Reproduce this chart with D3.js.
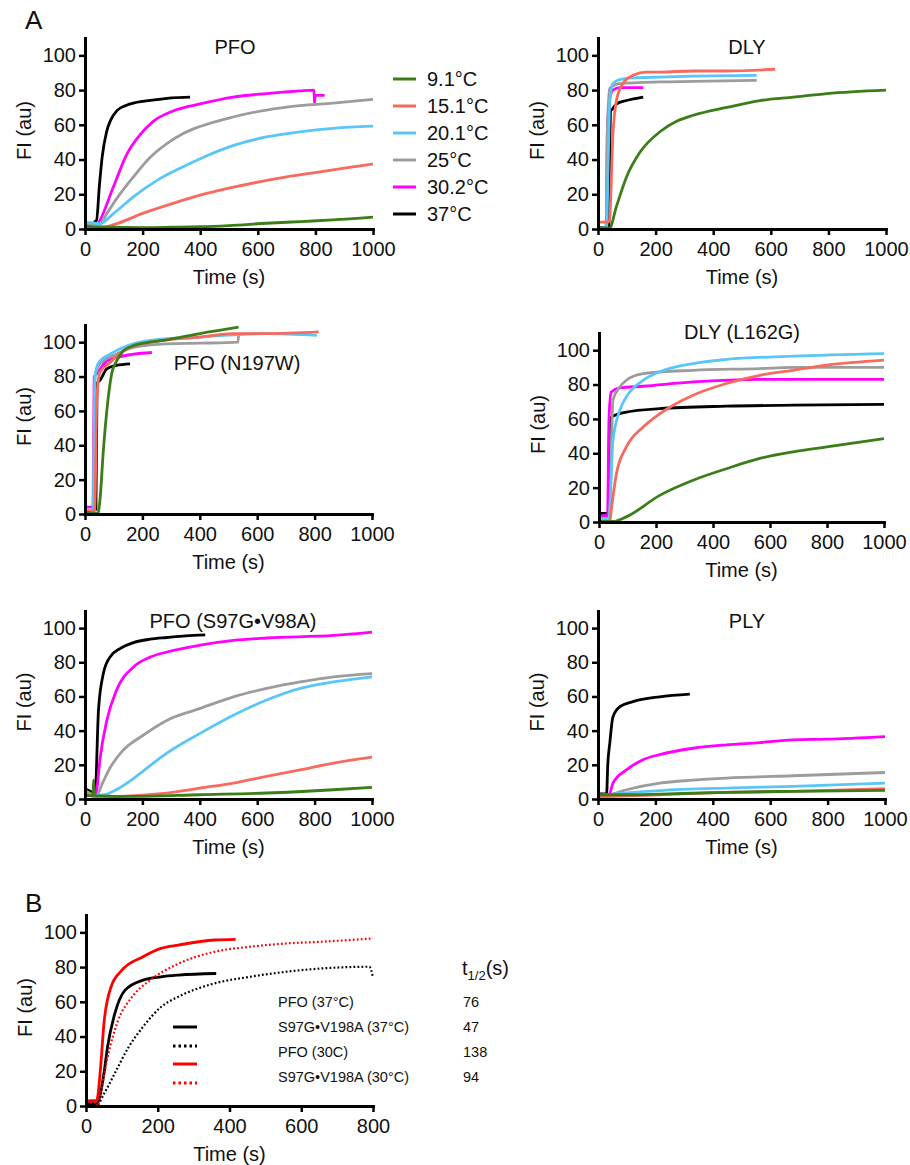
<!DOCTYPE html>
<html>
<head>
<meta charset="utf-8">
<script src="https://cdn.jsdelivr.net/npm/d3@7"></script>
<style>
  body { margin: 0; background: #fff; }
  svg text { font-family: Helvetica, Arial, 'Liberation Sans', sans-serif; fill: #111; }
</style>
</head>
<body>
<div id="chart"></div>
<script>
// ---------------------------------- DATA ---------------------------------- //

let temps = ['9.1°C', '15.1°C', '20.1°C', '25°C', '30.2°C', '37°C'];
let y_ticks = [0, 20, 40, 60, 80, 100];
let x_ticks_a = [0, 200, 400, 600, 800, 1000];
let x_ticks_b = [0, 200, 400, 600, 800];

// each panel: one trace per temperature, same order as temps, points are [time (s), FI]
let pfo = [
  [[0,1.5],[50,1.2],[100,1],[200,0.8],[300,1],[400,1.3],[500,2],[630,3.3],[750,4.3],[861,5.2],[1000,6.8]],
  [[0,1],[60,1],[100,2.5],[200,9],[300,14.5],[400,19.5],[500,23.5],[600,27],[700,30],[800,32.5],[900,35],[1000,37.4]],
  [[0,4],[30,3.5],[50,3],[100,9],[168,18.5],[250,28],[330,35],[400,40.5],[514,48],[630,53],[746,56],[861,58],[1000,59.2]],
  [[0,3],[50,3],[80,10],[110,17.5],[168,30],[225,41],[283,49],[341,55],[399,59],[514,64.5],[630,68.5],[746,71],[861,72.5],[1000,74.7]],
  [[45,3],[52,5],[98,24],[145,43],[190,54],[237,62],[306,68],[399,72],[514,76],[630,78],[746,79.5],[795,80],[797,72],[799,77],[832,77]],
  [[30,4],[40,5],[50,25],[60,42],[75,56],[90,63],[110,68],[140,71],[180,73],[250,74.5],[300,75.5],[365,76]]
];
let dly = [
  [[0,1],[40,0.5],[64,13],[99,30],[145,44],[215,56],[273,62],[331,65.5],[447,70],[563,74],[679,76],[795,78],[1000,80]],
  [[0,4],[35,4],[40,5],[52,55],[64,74],[87,84],[122,88.5],[168,90.4],[215,90.4],[331,91],[447,91],[615,92]],
  [[0,0.5],[30,0.5],[35,36],[41,74],[52,83.7],[75,86],[122,87],[215,87.5],[331,88],[551,88.5]],
  [[0,0.5],[28,1],[33,60],[41,81],[75,83.7],[215,84.7],[331,85],[551,85.6]],
  [[0,0.5],[28,1],[33,60],[45,78],[52,80],[75,81.4],[157,81.4]],
  [[38,1],[44,68],[50,69],[64,72],[99,74],[157,76]]
];
let pfo_n197w = [
  [[0,1],[45,0.5],[52,8],[64,37],[76,60],[93,81.7],[110,89],[134,95],[169,98],[227,100],[285,101.4],[401,105],[535,108.7]],
  [[0,2],[33,2],[35,8],[41,66],[52,82.6],[87,88],[134,95],[227,100],[401,103],[517,105],[633,105],[814,106]],
  [[0,1],[28,1],[35,80],[41,85.5],[52,89],[87,93],[134,97],[227,101],[401,103],[633,105],[808,104]],
  [[0,1],[28,1],[35,80],[52,87.5],[110,93],[169,97],[285,99],[401,99.4],[533,100],[535,104]],
  [[0,4],[28,4],[32,80],[41,81.6],[76,89],[169,93],[233,94]],
  [[38,2],[42,76],[52,77.8],[76,84.5],[110,86.5],[157,87.4]]
];
let dly_l162g = [
  [[0,0.3],[50,0.3],[96,3],[213,15.5],[330,24.3],[447,31],[564,37],[681,40.8],[799,43.7],[1000,48.5]],
  [[38,0],[61,28],[96,43.7],[155,55.3],[213,63],[330,73.8],[447,80.6],[564,85.4],[681,88.3],[799,91.3],[1000,94.2]],
  [[0,2],[35,2],[49,47.6],[73,65],[96,72.8],[155,82.5],[213,87.4],[330,92.2],[447,94.6],[681,96.5],[1000,98]],
  [[0,2],[36,2],[49,71],[73,78.6],[96,82.5],[155,86.4],[330,88.3],[564,89.3],[681,90],[1000,90]],
  [[0,3.5],[30,3.5],[35,60],[43,75.7],[73,78],[155,79],[330,81.5],[564,83],[1000,83]],
  [[0,5],[33,5],[37,55],[43,61],[96,64],[213,66],[447,67.4],[681,68],[1000,68.5]]
];
let pfo_s97g = [
  [[0,2],[28,2],[30,11],[33,2],[169,1.5],[401,2.5],[633,3.5],[866,5.4],[1000,6.8]],
  [[0,3],[50,1],[169,2],[285,3.5],[401,6.4],[517,9.3],[633,13.2],[750,17],[866,21],[1000,24.5]],
  [[0,3],[40,2],[70,2.5],[110,5.5],[169,12],[227,19.5],[285,26.8],[401,38.4],[517,49],[633,57.9],[750,64.7],[866,68.5],[1000,71.5]],
  [[0,5],[40,2],[60,9],[90,19],[130,28],[200,37],[285,46],[401,53],[517,59.8],[633,64.7],[750,68.5],[866,71.5],[1000,73.4]],
  [[0,3],[35,2],[41,5.4],[52,23],[76,46],[110,63.7],[169,77.3],[227,83],[285,86],[401,90],[517,92.8],[633,94.2],[866,95.7],[1000,97.7]],
  [[0,6],[30,3],[35,2],[47,52],[64,73.4],[87,83],[122,88],[169,91.5],[227,93.5],[285,94.5],[350,95.5],[419,96]]
];
let ply = [
  [[0,2.5],[99,2.5],[215,2.9],[448,3.9],[680,4.5],[1000,5]],
  [[0,1.2],[215,2.5],[448,3.9],[680,4.5],[1000,6]],
  [[0,2],[99,3.5],[215,4.9],[448,6.4],[680,7.4],[1000,9.3]],
  [[0,2],[41,2.5],[99,5.4],[215,9.3],[331,11],[448,12.2],[680,13.6],[1000,15.5]],
  [[0,2],[40,3],[52,9.3],[99,17],[157,23],[215,26],[331,29.7],[448,31.7],[564,33],[680,34.6],[796,35],[1000,36.5]],
  [[0,3],[30,3],[34,20],[41,32.6],[52,48],[76,54],[122,57],[215,59.8],[320,61.4]]
];

// panel B
let b_labels = ['PFO (37°C)', 'S97G•V198A (37°C)', 'PFO (30C)', 'S97G•V198A (30°C)'];
let b_half_times = ['76', '47', '138', '94'];
let b_traces = [
  [[0,1.3],[30,1.3],[50,18.7],[60,34],[80,53],[109,66.7],[159,72.5],[209,74.4],[258,75.4],[363,76.3]],
  [[0,0.4],[30,0.4],[50,7],[80,18.7],[119,34],[159,45.6],[209,57],[258,63],[358,70.6],[457,74.4],[557,77.3],[656,79.2],[790,80.2],[800,74]],
  [[0,3],[30,3.3],[40,20.6],[50,47.5],[70,68.7],[99,78],[159,86],[209,90.8],[258,92.7],[358,95.6],[417,96]],
  [[0,2],[28,2],[32,0],[40,7],[60,28],[89,49],[129,63],[179,72.5],[258,82],[358,88.8],[457,91.7],[557,93.6],[656,94.6],[800,96.5]]
];

// ---------------------------------- SETTINGS ---------------------------------- //

let img_width = 910;
let img_height = 1165;
let temp_colors = ['#3b7d17', '#f8695e', '#5ac6f7', '#9c9c9c', '#ff00ff', '#000000'];
let b_colors = ['#000000', '#000000', '#ff0000', '#ff0000'];
let b_dashed = [false, true, false, true];
let tick_font = 20;

// plot boxes: left, right, bottom, top (top = y value 110)
let panels = [
  { data: pfo, title: 'PFO', left: 85, right: 373, bottom: 229, top: 38, tx: 235, ty: 54 },
  { data: dly, title: 'DLY', left: 598, right: 886, bottom: 229, top: 38, tx: 747, ty: 54 },
  { data: pfo_n197w, title: 'PFO (N197W)', left: 85, right: 372, bottom: 514, top: 325, tx: 237, ty: 370 },
  { data: dly_l162g, title: 'DLY (L162G)', left: 599, right: 884, bottom: 522, top: 333, tx: 742, ty: 339 },
  { data: pfo_s97g, title: 'PFO (S97G•V98A)', left: 85, right: 372, bottom: 799, top: 611, tx: 233, ty: 628 },
  { data: ply, title: 'PLY', left: 598, right: 885, bottom: 799, top: 611, tx: 747, ty: 628 }
];

// ---------------------------------- HELPERS ---------------------------------- //

let svg = d3.select('#chart')
  .append('svg')
  .attr('width', img_width)
  .attr('height', img_height);

function drawAxes(g, x, y, ticks_x, bottom, top, left) {
  let ax = g.append('g')
    .attr('transform', `translate(0,${bottom})`)
    .call(d3.axisBottom(x).tickValues(ticks_x).tickFormat(d3.format('d')).tickSize(6).tickSizeOuter(0).tickPadding(7));
  let ay = g.append('g')
    .attr('transform', `translate(${left},0)`)
    .call(d3.axisLeft(y).tickValues(y_ticks).tickFormat(d3.format('d')).tickSize(6).tickSizeOuter(0).tickPadding(3));

  [ax, ay].forEach(function(a) {
    a.select('.domain').attr('stroke', '#000').attr('stroke-width', 3).attr('stroke-linecap', 'square');
    a.selectAll('.tick line').attr('stroke', '#000').attr('stroke-width', 2.5);
    a.selectAll('.tick text').style('font-size', `${tick_font}px`).attr('fill', '#111');
  });

  g.append('text')
    .attr('x', (x.range()[0] + x.range()[1]) / 2)
    .attr('y', bottom + 55)
    .attr('text-anchor', 'middle')
    .style('font-size', '20px')
    .text('Time (s)');

  g.append('text')
    .attr('transform', `translate(${left - 54},${(bottom + top) / 2 - 3}) rotate(-90)`)
    .attr('text-anchor', 'middle')
    .style('font-size', '20px')
    .text('FI (au)');
}

// ---------------------------------- PANELS A ---------------------------------- //

panels.forEach(function(p) {
  let g = svg.append('g');
  let x = d3.scaleLinear().domain([0, 1000]).range([p.left, p.right]);
  let y = d3.scaleLinear().domain([0, 110]).range([p.bottom, p.top]);
  let line = d3.line().x(d => x(d[0])).y(d => y(d[1])).curve(d3.curveMonotoneX);

  // draw from 37°C down so the cold traces sit on top
  let order = d3.range(temps.length).reverse();
  g.selectAll('path.trace')
    .data(order)
    .enter()
    .append('path')
    .attr('class', 'trace')
    .attr('d', i => line(p.data[i]))
    .attr('fill', 'none')
    .attr('stroke', i => temp_colors[i])
    .attr('stroke-width', 2.8)
    .attr('stroke-linejoin', 'round');

  drawAxes(g, x, y, x_ticks_a, p.bottom, p.top, p.left);

  g.append('text')
    .attr('x', p.tx)
    .attr('y', p.ty)
    .attr('text-anchor', 'middle')
    .style('font-size', '20px')
    .text(p.title);
});

// legend for A
let legend = svg.append('g').attr('transform', 'translate(393,79)');
temps.forEach(function(t, i) {
  legend.append('line')
    .attr('x1', 0).attr('x2', 23)
    .attr('y1', i * 27).attr('y2', i * 27)
    .attr('stroke', temp_colors[i])
    .attr('stroke-width', 3);
  legend.append('text')
    .attr('x', 34)
    .attr('y', i * 27)
    .attr('dy', '0.35em')
    .style('font-size', '20px')
    .text(t);
});

svg.append('text').attr('x', 25).attr('y', 29).style('font-size', '26px').text('A');

// ---------------------------------- PANEL B ---------------------------------- //

let gb = svg.append('g');
let xb = d3.scaleLinear().domain([0, 800]).range([86, 373]);
let yb = d3.scaleLinear().domain([0, 110]).range([1106, 915]);
let line_b = d3.line().x(d => xb(d[0])).y(d => yb(d[1])).curve(d3.curveMonotoneX);

gb.selectAll('path.trace')
  .data(d3.range(b_traces.length))
  .enter()
  .append('path')
  .attr('class', 'trace')
  .attr('d', i => line_b(b_traces[i]))
  .attr('fill', 'none')
  .attr('stroke', i => b_colors[i])
  .attr('stroke-width', i => b_dashed[i] ? 2.2 : 2.8)
  .attr('stroke-dasharray', i => b_dashed[i] ? '1.8,2.2' : null)
  .attr('stroke-linejoin', 'round');

drawAxes(gb, xb, yb, x_ticks_b, 1106, 915, 86);

svg.append('text').attr('x', 25).attr('y', 912).style('font-size', '26px').text('B');

// legend lines sit a little below their labels, as in the original
let b_line_y = [1027, 1046, 1064, 1083];
b_line_y.forEach(function(ly, i) {
  gb.append('line')
    .attr('x1', 173).attr('x2', 197)
    .attr('y1', ly).attr('y2', ly)
    .attr('stroke', b_colors[i])
    .attr('stroke-width', 3)
    .attr('stroke-dasharray', b_dashed[i] ? '2.5,3' : null);
});

b_labels.forEach(function(lbl, i) {
  gb.append('text')
    .attr('x', 278)
    .attr('y', 1002 + i * 25)
    .attr('dy', '0.35em')
    .style('font-size', '14.5px')
    .text(lbl);
  gb.append('text')
    .attr('x', 463)
    .attr('y', 1002 + i * 25)
    .attr('dy', '0.35em')
    .style('font-size', '14.5px')
    .text(b_half_times[i]);
});

let th = gb.append('text')
  .attr('x', 462)
  .attr('y', 975)
  .style('font-size', '20px');
th.append('tspan').text('t');
th.append('tspan').attr('dy', 5).style('font-size', '13px').text('1/2');
th.append('tspan').attr('dy', -5).text('(s)');
</script>
</body>
</html>
